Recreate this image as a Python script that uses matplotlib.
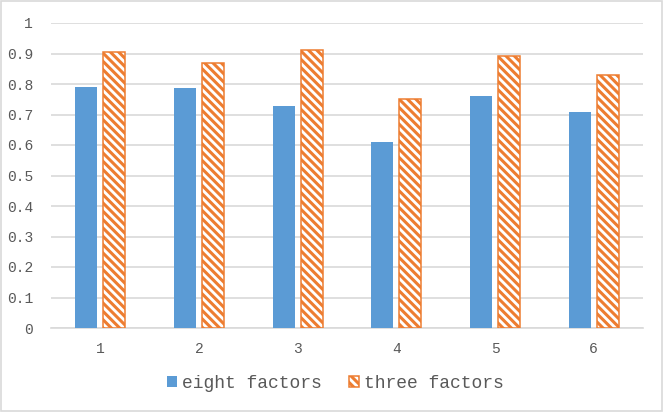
import matplotlib
matplotlib.use("Agg")
import matplotlib.pyplot as plt
import numpy as np
from matplotlib.patches import Rectangle

categories = ["1", "2", "3", "4", "5", "6"]
eight_factors = [0.79, 0.788, 0.728, 0.61, 0.761, 0.708]
three_factors = [0.906, 0.869, 0.913, 0.751, 0.892, 0.830]
yticks = [0, 0.1, 0.2, 0.3, 0.4, 0.5, 0.6, 0.7, 0.8, 0.9, 1]
ytick_labels = ["0", "0.1", "0.2", "0.3", "0.4", "0.5", "0.6", "0.7", "0.8", "0.9", "1"]

plt.rcParams['hatch.linewidth'] = 2.2
font = "Liberation Mono"

fig = plt.figure(figsize=(6.64, 4.12), dpi=100)
ax = fig.add_axes([51/664, 1-328/412, 592/664, 305/412])

x = np.arange(len(categories))
w = 0.223
off = 0.142
ax.bar(x - off, eight_factors, width=w, color="#5B9BD5", edgecolor="none", label="eight factors", zorder=3)
ax.bar(x + off, three_factors, width=w, color="white", edgecolor="#ED7D31", hatch="\\\\\\\\",
       linewidth=1.1, label="three factors", zorder=3)

ax.set_xlim(-0.5, len(categories) - 0.5)
ax.set_ylim(0, 1)
ax.set_yticks(yticks)
ax.set_yticklabels(ytick_labels, fontfamily=font, fontsize=10.5, color="#595959")
ax.set_xticks(x)
ax.set_xticklabels(categories, fontfamily=font, fontsize=10.5, color="#595959")
ax.tick_params(axis="both", length=0)
ax.tick_params(axis="y", pad=13)
ax.tick_params(axis="x", pad=10)
ax.grid(axis="y", color="#d9d9d9", linewidth=1.2, zorder=0)
for s in ["top", "right", "left"]:
    ax.spines[s].set_visible(False)
ax.spines["bottom"].set_color("#d9d9d9")
ax.spines["bottom"].set_linewidth(1.2)

leg = fig.legend(loc="center", bbox_to_anchor=(0.505, 1-383/412), ncol=2, frameon=False,
                 prop={"family": font, "size": 13}, handlelength=0.56, handleheight=0.56,
                 handletextpad=0.3, columnspacing=1.5)
for t in leg.get_texts():
    t.set_color("#595959")

fig.patches.append(Rectangle((0.002, 0.003), 0.995, 0.994, transform=fig.transFigure,
                             fill=False, edgecolor="#d9d9d9", linewidth=1.2))

fig.savefig("out.png", dpi=100)
